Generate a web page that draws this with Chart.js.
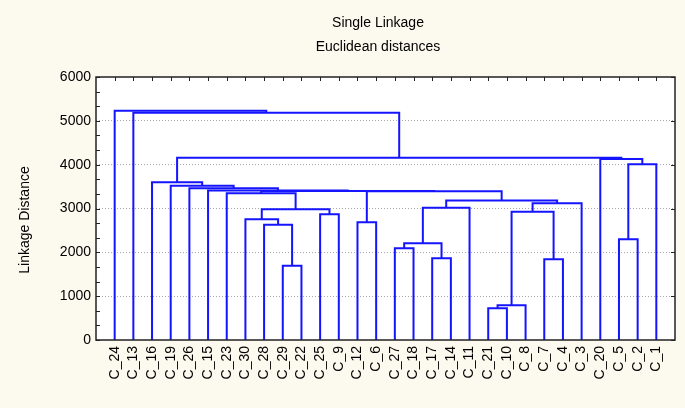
<!DOCTYPE html>
<html>
<head>
<meta charset="utf-8">
<title>Single Linkage</title>
<script src="https://cdn.jsdelivr.net/npm/chart.js@4.4.0/dist/chart.umd.min.js"></script>
<style>
  html, body { margin: 0; padding: 0; background: #fcf9ee; }
  canvas { display: block; }
</style>
</head>
<body>
<canvas id="chart" width="685" height="408"></canvas>
<script>
// Порядок листьев вдоль оси X
const leafLabels = ['C_24', 'C_13', 'C_16', 'C_19', 'C_26', 'C_15', 'C_23', 'C_30', 'C_28', 'C_29',
  'C_22', 'C_25', 'C_9', 'C_12', 'C_6', 'C_27', 'C_18', 'C_17', 'C_14', 'C_11',
  'C_21', 'C_10', 'C_8', 'C_7', 'C_4', 'C_3', 'C_20', 'C_5', 'C_2', 'C_1'];

// Шаги объединения: '#n' - кластер, полученный на шаге n
const mergeLeft = ['C_21', '#0', 'C_29', 'C_17', 'C_7', 'C_27', '#5', 'C_5', 'C_28', 'C_12',
  'C_30', 'C_25', '#1', '#10', '#6', '#12', '#14', 'C_23', '#9', '#17',
  'C_15', 'C_26', 'C_19', 'C_16', '#7', 'C_20', '#23', 'C_13', 'C_24'];
const mergeRight = ['C_10', 'C_8', 'C_22', 'C_14', 'C_4', 'C_18', '#3', 'C_2', '#2', 'C_6',
  '#8', 'C_9', '#4', '#11', 'C_11', 'C_3', '#15', '#13', '#16', '#18',
  '#19', '#20', '#21', '#22', 'C_1', '#24', '#25', '#26', '#27'];
const mergeDistance = [723, 790, 1695, 1863, 1840, 2095, 2206, 2297, 2630, 2685,
  2753, 2867, 2927, 2981, 3015, 3118, 3182, 3346, 3392, 3400,
  3410, 3460, 3520, 3600, 4007, 4129, 4158, 5185, 5230];

const chartTitle = ['Single Linkage', 'Euclidean distances'];
const yAxisTitle = 'Linkage Distance';
const yMin = 0;
const yMax = 6000;
const yStep = 1000;

const FONT = 'Liberation Sans, Arial, sans-serif';
const LINE_COLOR = '#1414ff';

// Строим отрезки дендрограммы: стебель кластера - середина между детьми
const nodes = {};
leafLabels.forEach((name, i) => { nodes[name] = { x: i + 1, y: 0 }; });
const datasets = mergeDistance.map((d, i) => {
  const a = nodes[mergeLeft[i]];
  const b = nodes[mergeRight[i]];
  nodes['#' + i] = { x: (a.x + b.x) / 2, y: d };
  return {
    data: [{ x: a.x, y: a.y }, { x: a.x, y: d }, { x: b.x, y: d }, { x: b.x, y: b.y }],
    showLine: true,
    borderColor: LINE_COLOR,
    borderWidth: 2,
    pointRadius: 0,
    tension: 0
  };
});

// Фон и белая область графика
const backgroundPlugin = {
  id: 'background',
  beforeDraw(chart) {
    const { ctx, chartArea: a } = chart;
    ctx.save();
    ctx.fillStyle = '#fcf9ee';
    ctx.fillRect(0, 0, chart.width, chart.height);
    ctx.fillStyle = '#ffffff';
    ctx.fillRect(a.left, a.top, a.right - a.left, a.bottom - a.top);
    ctx.restore();
  }
};

// Рамка и внутренние засечки
const framePlugin = {
  id: 'frame',
  afterDatasetsDraw(chart) {
    const { ctx, chartArea: a, scales } = chart;
    ctx.save();
    ctx.strokeStyle = '#222';
    ctx.lineWidth = 1;
    ctx.beginPath();
    // левая ось: малые засечки через треть шага
    for (let v = yMin; v <= yMax + 1; v += yStep / 3) {
      const y = Math.round(scales.y.getPixelForValue(v)) + 0.5;
      ctx.moveTo(a.left, y);
      ctx.lineTo(a.left + 4, y);
    }
    // правая ось: только основные значения
    for (let v = yMin; v <= yMax; v += yStep) {
      const y = Math.round(scales.y.getPixelForValue(v)) + 0.5;
      ctx.moveTo(a.right, y);
      ctx.lineTo(a.right - 4, y);
    }
    // верхняя ось: засечки над каждым листом
    leafLabels.forEach((_, i) => {
      const x = Math.round(scales.x.getPixelForValue(i + 1)) + 0.5;
      ctx.moveTo(x, a.top);
      ctx.lineTo(x, a.top + 4);
    });
    ctx.stroke();
    ctx.lineWidth = 1.5;
    ctx.strokeRect(a.left, a.top, a.right - a.left, a.bottom - a.top);
    ctx.restore();
  }
};

// Заголовки
const textPlugin = {
  id: 'texts',
  afterDraw(chart) {
    const { ctx } = chart;
    ctx.save();
    ctx.fillStyle = '#000';
    ctx.font = '14px ' + FONT;
    ctx.textAlign = 'center';
    ctx.textBaseline = 'middle';
    ctx.fillText(chartTitle[0], 378, 23);
    ctx.fillText(chartTitle[1], 378, 47);
    ctx.translate(25, 220);
    ctx.rotate(-Math.PI / 2);
    ctx.fillText(yAxisTitle, 0, 0);
    ctx.restore();
  }
};

new Chart(document.getElementById('chart'), {
  type: 'scatter',
  data: { datasets },
  options: {
    responsive: false,
    animation: false,
    devicePixelRatio: 1,
    layout: { padding: { top: 77, right: 10, left: 0, bottom: 0 } },
    plugins: {
      legend: { display: false },
      tooltip: { enabled: false }
    },
    scales: {
      x: {
        type: 'linear',
        min: 0,
        max: leafLabels.length + 1,
        grid: { display: false, drawTicks: false },
        border: { display: false },
        afterBuildTicks: scale => {
          scale.ticks = leafLabels.map((_, i) => ({ value: i + 1 }));
        },
        ticks: {
          autoSkip: false,
          minRotation: 90,
          maxRotation: 90,
          padding: 6,
          color: '#000',
          font: { family: FONT, size: 14 },
          callback: value => leafLabels[value - 1]
        },
        afterFit: scale => { scale.height = 68; }
      },
      y: {
        min: yMin,
        max: yMax,
        ticks: {
          stepSize: yStep,
          padding: 5,
          color: '#000',
          font: { family: FONT, size: 14 },
          callback: value => String(value)
        },
        grid: {
          drawTicks: false,
          lineWidth: 1,
          color: ctx => (ctx.tick.value === yMin || ctx.tick.value === yMax) ? 'rgba(0,0,0,0)' : '#a8a8a8'
        },
        border: { display: false, dash: [1, 2] },
        afterFit: scale => { scale.width = 96; }
      }
    }
  },
  plugins: [backgroundPlugin, framePlugin, textPlugin]
});
</script>
</body>
</html>
